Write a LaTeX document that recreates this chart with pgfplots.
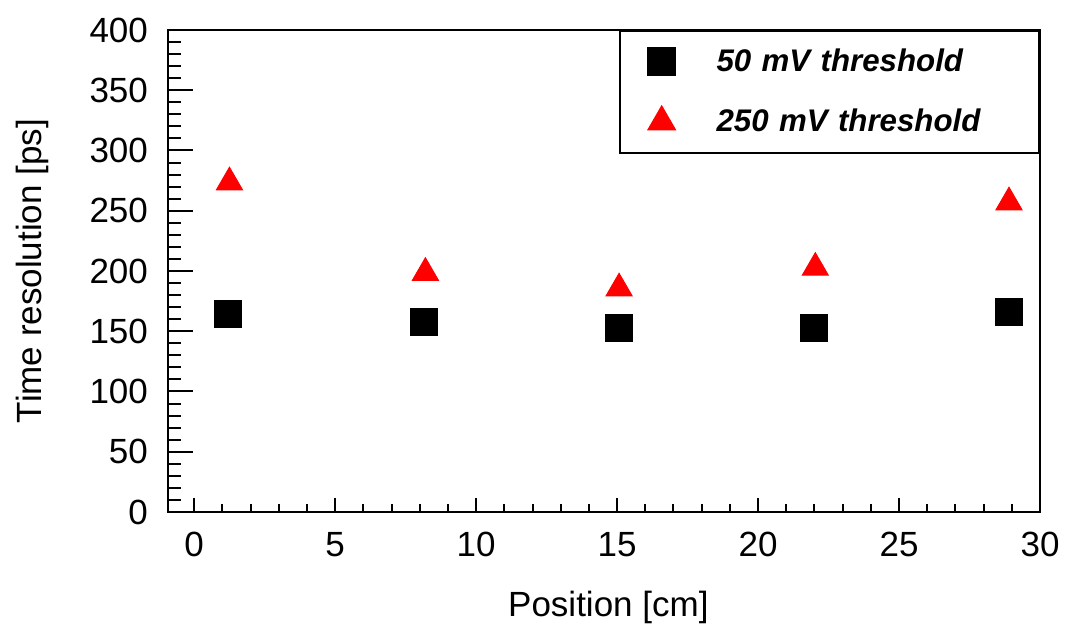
\documentclass[border=0pt]{standalone}
\usepackage{fontspec}
\setmainfont{Liberation Sans}
\usepackage{pgfplots}
\pgfplotsset{compat=1.18}
\pgfplotsset{common/.style={
  scale only axis=true,
  at={(0,0)}, anchor=south west,
  width=348.8pt, height=192.8pt,
  xmin=-0.93, xmax=30, ymin=0, ymax=400,
  xtick={0,5,...,30}, ytick={0,50,...,400},
  minor x tick num=4, minor y tick num=4,
  tick pos=left,
  tick align=inside,
  axis line style={line width=0.9pt},
  every tick/.style={black, line width=0.8pt},
}}
\begin{document}
\begin{tikzpicture}
\useasboundingbox (-67.2pt,-45.6pt) rectangle (360.4pt,204.8pt);
\begin{axis}[
  common,
  major tick length=5.5pt, minor tick length=3pt,
  y tick style={draw=none},
  /pgf/number format/assume math mode=true,
  tick label style={font=\fontsize{14}{16}\selectfont},
  label style={font=\fontsize{14}{16}\selectfont},
  yticklabel style={xshift=-4.5pt},
  xticklabel style={yshift=-4.5pt},
  xlabel={Position [cm]},
  ylabel={Time resolution [ps]},
  xlabel style={at={(axis description cs:0.505,-0.198)}, anchor=center},
  ylabel style={at={(axis description cs:-0.155,0.5)}, anchor=center},
  legend style={at={(1,1)}, anchor=north east, draw=black, line width=0.8pt,
    font=\fontsize{12.5}{15}\selectfont\bfseries\itshape,
    inner xsep=8pt, inner ysep=5pt, row sep=9.5pt,
    nodes={text width=119pt, anchor=west}},
  legend cell align=left,
  legend image code/.code={\draw plot coordinates {(0.3cm,0cm)}; \path[draw=none] (0cm,0cm) (1cm,0cm);},
]
\addplot[only marks, mark=square*, mark size=5.4pt, black] coordinates {
  (1.2,164.3) (8.15,157.7) (15.05,152.4) (22,153.1) (28.9,166.1)
};
\addlegendentry{50 mV threshold}
\addplot[only marks, mark=triangle*, mark size=6pt, red, mark options={fill=red, draw=red}] coordinates {
  (1.25,273.6) (8.2,198.5) (15.07,185.6) (22.03,202.7) (28.9,257)
};
\addlegendentry{250 mV threshold}
\end{axis}
\begin{axis}[
  common,
  major tick length=10pt, minor tick length=5pt,
  hide x axis,
  yticklabels={},
]
\end{axis}
\end{tikzpicture}
\end{document}
